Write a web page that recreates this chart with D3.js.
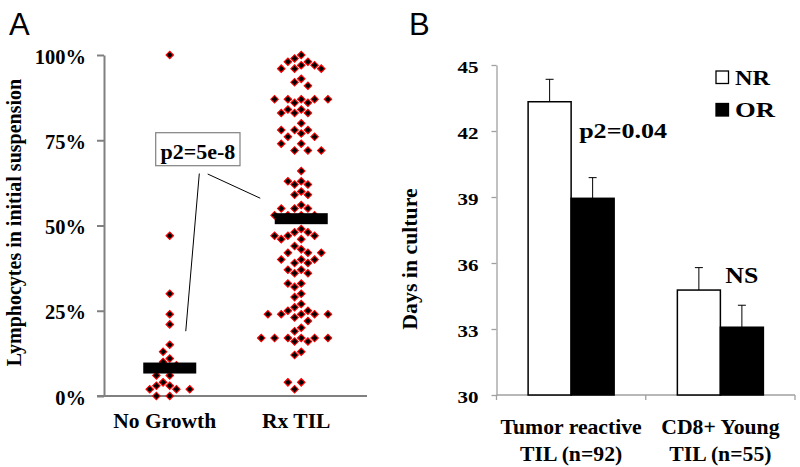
<!DOCTYPE html>
<html><head><meta charset="utf-8">
<script src="https://cdn.jsdelivr.net/npm/d3@7"></script>
<style>body{margin:0;background:#fff} svg{display:block}</style>
</head><body>
<svg id="c" width="800" height="467"></svg>
<script>
// ---------- Panel A data ----------
const groupsA = ["No Growth", "Rx TIL"];
const noGrowthValues = [100, 47, 30, 24, 21, 15, 13, 11, 10, 9, 6, 6, 4, 3, 3, 2, 2, 2, 0, 0];
const rxTilValues = [100, 99, 98, 98, 97, 97, 96, 96, 96, 93, 92, 91,
  87, 87, 87, 87, 87, 86, 86, 84, 84, 83, 83, 83, 80, 78, 78, 78, 77, 76, 76,
  74, 74, 72, 72, 72, 66, 63, 63, 62, 62, 60, 59, 59, 56, 55, 55, 55, 53, 53, 53, 53,
  49, 48, 48, 47, 47, 47, 46, 46, 44, 43, 42, 42, 42, 40, 40, 40, 39, 39, 37, 37,
  36, 36, 33, 33, 32, 30, 29, 27, 26, 25, 25, 24, 24, 24, 24, 24, 23, 22, 20, 19,
  17, 17, 17, 17, 17, 17, 16, 16, 13, 12, 4, 4, 2];
const medianA = [8.2, 52];
const yTicksA = [0, 25, 50, 75, 100];
const yTitleA = "Lymphocytes in initial suspension";
const pLabelA = "p2=5e-8";

// ---------- Panel B data ----------
const categoriesB = ["Tumor reactive\nTIL (n=92)", "CD8+ Young\nTIL (n=55)"];
const seriesB = ["NR", "OR"];
const nrDays = [43.33, 34.77];
const orDays = [38.94, 33.08];
const nrErr = [1.02, 1.02];
const orErr = [0.94, 1.0];
const yTicksB = [30, 33, 36, 39, 42, 45];
const yTitleB = "Days in culture";
const pLabelsB = ["p2=0.04", "NS"];

const serif = "'Liberation Serif','Times New Roman',serif";
const sans = "'Liberation Sans',Arial,sans-serif";
const svg = d3.select("#c");

// ================= Panel A =================
const yA = d3.scaleLinear().domain([0, 100]).range([396, 55]);
const xA = d3.scaleBand().domain(groupsA).range([104, 367]).padding(0);
const gA = svg.append("g");

gA.append("text").attr("x", 9).attr("y", 35).attr("font-family", sans)
  .attr("font-size", 31).text("A");

// x axis line
gA.append("line").attr("x1", 97).attr("x2", xA.range()[1])
  .attr("y1", yA(0)).attr("y2", yA(0)).attr("stroke", "#808080").attr("stroke-width", 2);

const axA = gA.append("g").attr("transform", "translate(104,0)")
  .call(d3.axisLeft(yA).tickValues(yTicksA).tickSize(7).tickSizeOuter(0)
    .tickPadding(11).tickFormat(d => d + "%"));
axA.select(".domain").attr("stroke", "#808080").attr("stroke-width", 2);
axA.selectAll(".tick line").attr("stroke", "#808080").attr("stroke-width", 2);
axA.selectAll(".tick text").attr("font-family", serif).attr("font-weight", "bold")
  .attr("font-size", 20.5).attr("fill", "#000").attr("dy", "0.4em");

gA.append("text").attr("transform", "translate(20.5,222.5) rotate(-90)")
  .attr("text-anchor", "middle").attr("font-family", serif).attr("font-weight", "bold")
  .attr("font-size", 20).text(yTitleA);

gA.selectAll(".catA").data(groupsA).enter().append("text")
  .attr("x", d => xA(d) + xA.bandwidth() / 2 - 5).attr("y", 428)
  .attr("text-anchor", "middle").attr("font-family", serif).attr("font-weight", "bold")
  .attr("font-size", 21.5).text(d => d);

// beeswarm dodge
function dodge(values, cx, spacing, minDist) {
  const placed = [];
  const out = new Array(values.length);
  const order = values.map((v, i) => ({ v, i })).sort((a, b) => b.v - a.v);
  const slots = [0];
  for (let k = 1; k <= 8; k++) slots.push(-k, k);
  for (const p of order) {
    const y = yA(p.v);
    let chosen = slots[slots.length - 1];
    for (const s of slots) {
      const x = cx + s * spacing;
      if (placed.every(q => Math.abs(q.x - x) + Math.abs(q.y - y) >= minDist)) { chosen = s; break; }
    }
    const pt = { x: cx + chosen * spacing, y, v: p.v };
    placed.push(pt); out[p.i] = pt;
  }
  return out;
}
const diamond = d3.symbol(d3.symbolSquare, 28)();
[noGrowthValues, rxTilValues].forEach((vals, gi) => {
  const cx = xA(groupsA[gi]) + xA.bandwidth() / 2;
  const pts = dodge(vals, cx, 6.67, 9);
  gA.append("g").selectAll("path").data(pts).enter().append("path")
    .attr("d", diamond)
    .attr("transform", d => `translate(${d.x},${d.y}) rotate(45)`)
    .attr("fill", "#000").attr("stroke", "#ff0000").attr("stroke-width", 1.1);
});
// median bars
gA.selectAll(".med").data(medianA).enter().append("rect")
  .attr("x", (d, i) => xA(groupsA[i]) + xA.bandwidth() / 2 - 26.5)
  .attr("width", 53).attr("y", d => yA(d) - 5.5).attr("height", 11).attr("fill", "#000");

// annotation
const boxA = { x: 155.7, y: 132.7, w: 84.3, h: 33 };
gA.append("rect").attr("x", boxA.x).attr("y", boxA.y).attr("width", boxA.w).attr("height", boxA.h)
  .attr("fill", "#fff").attr("stroke", "#808080").attr("stroke-width", 1.2);
gA.append("text").attr("x", boxA.x + boxA.w / 2).attr("y", 158.5).attr("text-anchor", "middle")
  .attr("font-family", serif).attr("font-weight", "bold").attr("font-size", 22).text(pLabelA);
const cxNG = xA(groupsA[0]) + xA.bandwidth() / 2;
const cxRx = xA(groupsA[1]) + xA.bandwidth() / 2;
gA.append("line").attr("x1", 199.3).attr("y1", 173.5).attr("x2", cxNG + 16).attr("y2", yA(19))
  .attr("stroke", "#000").attr("stroke-width", 1);
gA.append("line").attr("x1", 207.7).attr("y1", 174).attr("x2", cxRx - 41).attr("y2", yA(58))
  .attr("stroke", "#000").attr("stroke-width", 1);

// ================= Panel B =================
const yB = d3.scaleLinear().domain([30, 45]).range([395, 65]);
const xB = d3.scaleBand().domain(categoriesB).range([496.5, 795]).padding(0);
const xInner = d3.scaleBand().domain(seriesB).range([0, xB.bandwidth()])
  .paddingInner(0).paddingOuter(0.735);
const gB = svg.append("g");

gB.append("text").attr("x", 409).attr("y", 35).attr("font-family", sans)
  .attr("font-size", 31).text("B");

const axB = gB.append("g").attr("transform", "translate(496.5,0)")
  .call(d3.axisLeft(yB).tickValues(yTicksB).tickSize(5).tickSizeOuter(0).tickPadding(13));
axB.select(".domain").attr("stroke", "#a0a0a0").attr("stroke-width", 1.3);
axB.selectAll(".tick line").attr("stroke", "#a0a0a0").attr("stroke-width", 1.3);
axB.selectAll(".tick text").attr("font-family", serif).attr("font-weight", "bold")
  .attr("font-size", 17.5).attr("fill", "#000").attr("dy", "0.45em")
  .attr("textLength", 21).attr("lengthAdjust", "spacingAndGlyphs");

// x axis with ticks at band boundaries
gB.append("line").attr("x1", xB.range()[0]).attr("x2", xB.range()[1])
  .attr("y1", yB(30)).attr("y2", yB(30)).attr("stroke", "#a0a0a0").attr("stroke-width", 1.3);
const bounds = categoriesB.map(c => xB(c)).concat([xB.range()[1]]);
gB.selectAll(".xt").data(bounds).enter().append("line")
  .attr("x1", d => d).attr("x2", d => d).attr("y1", yB(30)).attr("y2", yB(30) + 5)
  .attr("stroke", "#a0a0a0").attr("stroke-width", 1.3);

gB.append("text").attr("transform", "translate(416.5,259) rotate(-90)")
  .attr("text-anchor", "middle").attr("font-family", serif).attr("font-weight", "bold")
  .attr("font-size", 21.8).text(yTitleB);

// bars
const rowsB = categoriesB.map((c, i) => [
  { cat: c, s: "NR", v: nrDays[i], e: nrErr[i] },
  { cat: c, s: "OR", v: orDays[i], e: orErr[i] }
]).flat();
gB.selectAll(".bar").data(rowsB).enter().append("rect")
  .attr("x", d => xB(d.cat) + xInner(d.s)).attr("width", xInner.bandwidth())
  .attr("y", d => yB(d.v)).attr("height", d => yB(30) - yB(d.v))
  .attr("fill", d => d.s === "NR" ? "#fff" : "#000")
  .attr("stroke", "#000").attr("stroke-width", 1.5);
// error bars
const eb = gB.selectAll(".eb").data(rowsB).enter().append("g");
eb.append("line").attr("x1", d => xB(d.cat) + xInner(d.s) + xInner.bandwidth() / 2)
  .attr("x2", d => xB(d.cat) + xInner(d.s) + xInner.bandwidth() / 2)
  .attr("y1", d => yB(d.v)).attr("y2", d => yB(d.v + d.e)).attr("stroke", "#000").attr("stroke-width", 1);
eb.append("line").attr("x1", d => xB(d.cat) + xInner(d.s) + xInner.bandwidth() / 2 - 4)
  .attr("x2", d => xB(d.cat) + xInner(d.s) + xInner.bandwidth() / 2 + 4)
  .attr("y1", d => yB(d.v + d.e)).attr("y2", d => yB(d.v + d.e)).attr("stroke", "#000").attr("stroke-width", 1);

// category labels
categoriesB.forEach(c => {
  const lines = c.split("\n");
  lines.forEach((ln, j) => {
    gB.append("text").attr("x", xB(c) + xB.bandwidth() / 2).attr("y", 434 + j * 26.5)
      .attr("text-anchor", "middle").attr("font-family", serif).attr("font-weight", "bold")
      .attr("font-size", 21.7).text(ln);
  });
});

// p labels
gB.append("text").attr("x", xB(categoriesB[0]) + xInner("OR") + 8).attr("y", 137.5)
  .attr("font-family", serif).attr("font-weight", "bold").attr("font-size", 20)
  .attr("textLength", 88).attr("lengthAdjust", "spacingAndGlyphs").text(pLabelsB[0]);
gB.append("text").attr("x", xB(categoriesB[1]) + xInner("OR") + xInner.bandwidth() / 2).attr("y", 283)
  .attr("text-anchor", "middle").attr("font-family", serif).attr("font-weight", "bold").attr("font-size", 23)
  .attr("textLength", 33).attr("lengthAdjust", "spacingAndGlyphs").text(pLabelsB[1]);

// legend
const leg = gB.selectAll(".leg").data(seriesB).enter().append("g")
  .attr("transform", (d, i) => `translate(716,${71 + i * 32.5})`);
leg.append("rect").attr("width", 12.5).attr("height", 12.5)
  .attr("fill", d => d === "NR" ? "#fff" : "#000").attr("stroke", "#000").attr("stroke-width", 1.3);
leg.append("text").attr("x", 19).attr("y", 13.5).attr("font-family", serif).attr("font-weight", "bold")
  .attr("font-size", 21.5).attr("textLength", (d, i) => [35, 40][i]).attr("lengthAdjust", "spacingAndGlyphs")
  .text(d => d);
</script>
</body></html>
